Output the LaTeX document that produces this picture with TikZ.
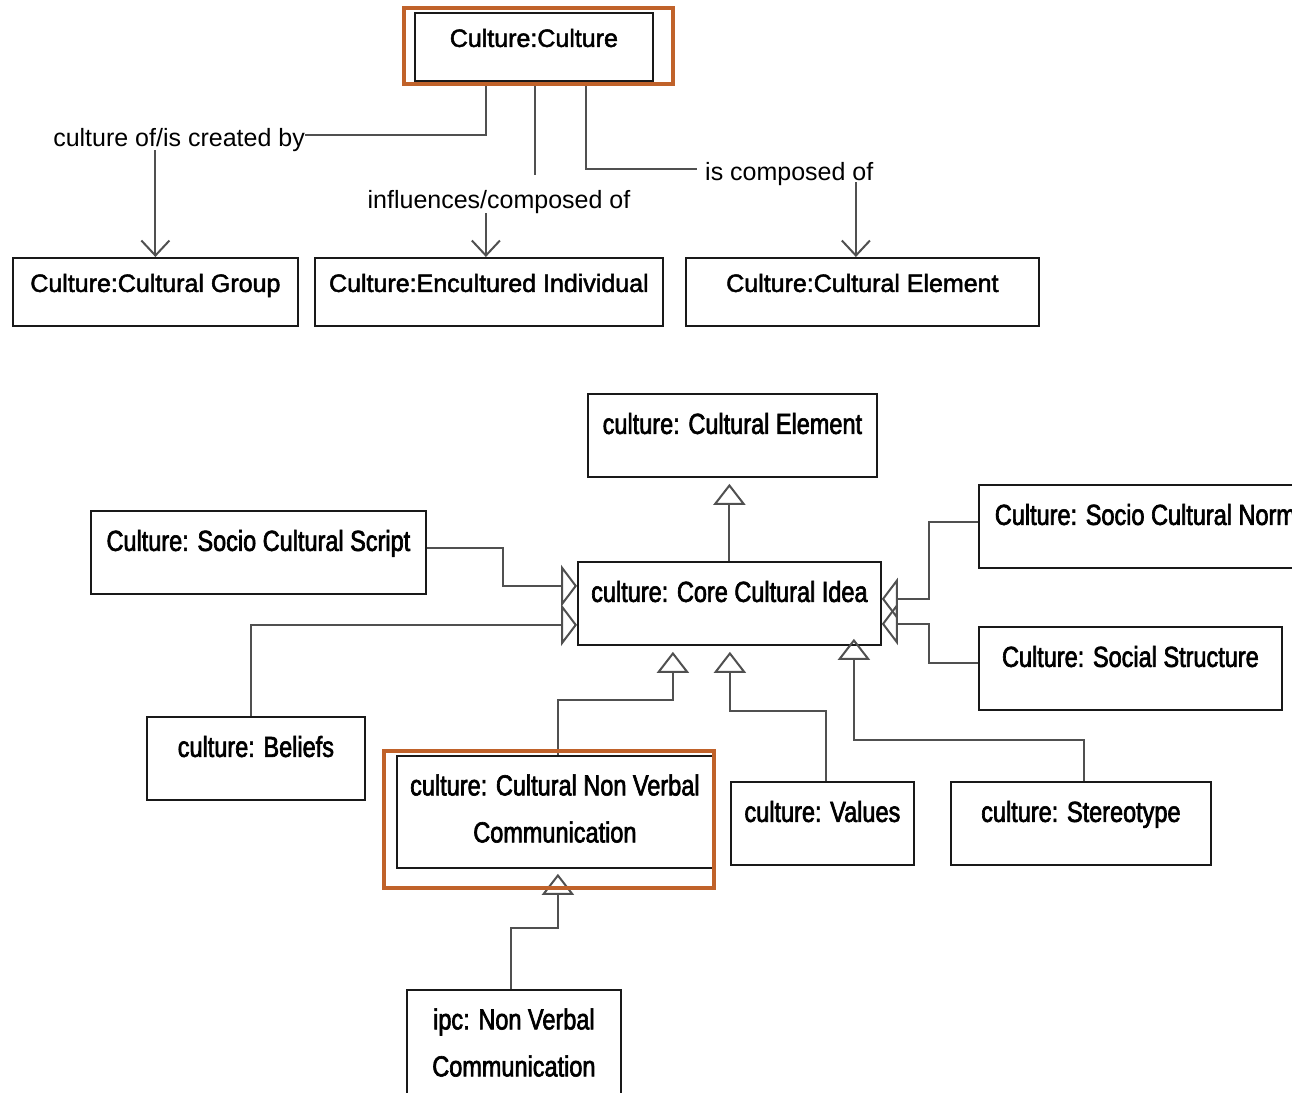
\documentclass[tikz,border=0pt]{standalone}
\usepackage{fontspec}
\setmainfont{Liberation Sans}
\newfontfamily\topfont{Liberation Sans}[FakeBold=2]
\newfontfamily\botfont{Liberation Sans}[FakeStretch=0.81,FakeBold=2.2]
\usetikzlibrary{arrows.meta,calc}
\definecolor{hl}{RGB}{192,98,42}
\definecolor{ln}{RGB}{80,80,80}
\begin{document}
\begin{tikzpicture}[x=1pt,y=-1pt,
  box/.style={draw=black!90, line width=1.8pt, inner sep=0pt, anchor=north west},
  tbox/.style={box, font=\topfont\fontsize{25}{30}\selectfont, text height=34pt, text depth=34pt},
  bbox/.style={box, font=\botfont\fontsize{29}{34}\selectfont, text height=40pt, text depth=43pt},
  mbox/.style={box, font=\botfont\fontsize{29}{34}\selectfont, align=center, minimum height=112pt},
  lab/.style={font=\fontsize{25}{29}\selectfont, inner sep=0pt, text height=24pt, text depth=2pt},
  conn/.style={draw=ln, line width=2pt},
  barb/.style={conn, -{Straight Barb[length=15pt,width=28pt]}},
  gen/.style={conn, -{Triangle[open,length=21pt,width=32pt]}},
  genh/.style={conn, -{Triangle[open,length=16pt,width=42pt]}},
  hilite/.style={draw=hl, line width=3.5pt},
]
\useasboundingbox (0,0) rectangle (1292,1092);
\clip (0,0) rectangle (1292,1092);

% ---------- top diagram ----------
\node[tbox, minimum width=238pt] (cc) at (414,12) {Culture:Culture};
\node[tbox, minimum width=285pt] (group) at (12,257) {Culture:Cultural Group};
\node[tbox, minimum width=348pt] (enc) at (314,257) {Culture:Encultured Individual};
\node[tbox, minimum width=353pt] (elem) at (685,257) {Culture:Cultural Element};

\node[lab, anchor=base east] (l1) at (305,146) {culture of/is created by};
\node[lab, anchor=base] (l2) at (499,208) {influences/composed of};
\node[lab, anchor=base west] (l3) at (705,180) {is composed of};

\draw[conn] ([xshift=-48pt]cc.south) |- (l1.east);
\draw[barb, shorten <=2pt] (group.north |- l1.south) -- (group.north);

\draw[conn, shorten >=9pt] ([xshift=1pt]cc.south) coordinate (m0) -- (m0 |- l2.north);
\coordinate (ma) at ([xshift=-3pt]enc.north);
\draw[barb, shorten <=3pt] (ma |- l2.south) -- (ma);

\draw[conn, shorten >=8pt] ([xshift=52pt]cc.south) |- (l3.west);
\coordinate (ea) at ([xshift=-6.5pt]elem.north);
\draw[barb] (ea |- l3.south) -- (ea);

\draw[hilite] (404,8) rectangle (673,84);

% ---------- bottom diagram ----------
\node[bbox, minimum width=289pt] (ce) at (587,393) {culture: Cultural Element};
\node[bbox, minimum width=303pt] (core) at (577,561) {culture: Core Cultural Idea};
\node[bbox, minimum width=335pt] (script) at (90,510) {Culture: Socio Cultural Script};
\node[bbox, minimum width=333pt] (norm) at (978,484) {Culture: Socio Cultural Norm};
\node[bbox, minimum width=303pt] (social) at (978,626) {Culture: Social Structure};
\node[bbox, minimum width=218pt] (beliefs) at (146,716) {culture: Beliefs};
\node[bbox, minimum width=183pt] (values) at (730,781) {culture: Values};
\node[bbox, minimum width=260pt] (stereo) at (950,781) {culture: Stereotype};
\node[mbox, minimum width=316pt] (cnvc) at (396,755) {culture: Cultural Non Verbal\\[13pt]Communication\rule[-7pt]{0pt}{7pt}};
\node[mbox, minimum width=214pt] (ipc) at (406,989) {ipc: Non Verbal\\[13pt]Communication\rule[-7pt]{0pt}{7pt}};

\draw[gen, shorten >=6pt] (core.north) -- (core.north |- ce.south);
\draw[genh] ([yshift=4pt]script.east) -- ++(76,0) |- ([yshift=17.5pt]core.west);
\draw[genh] ([xshift=-5pt]beliefs.north) |- ([yshift=-21.5pt]core.west);
\draw[genh] ([yshift=4.5pt]norm.west) -- ++(-49,0) |- ([yshift=4.5pt]core.east);
\draw[genh] ([yshift=5pt]social.west) -- ++(-49,0) |- ([yshift=-20.5pt]core.east);
\draw[gen, shorten >=6pt] ([xshift=3pt]cnvc.north) -- ++(0,-55) -| ([xshift=-56.5pt]core.south);
\draw[gen, shorten >=6pt] ([xshift=4pt]values.north) -- ++(0,-70) -| ([xshift=0.5pt]core.south);
\draw[gen, shorten >=-7pt] ([xshift=3pt]stereo.north) -- ++(0,-41) -| ([xshift=124.5pt]core.south);
\draw[gen, shorten >=5pt] ([xshift=-3pt]ipc.north) -- ++(0,-61) -| ([xshift=3pt]cnvc.south);

\draw[hilite] (384,751) rectangle (714,888);
\end{tikzpicture}
\end{document}
